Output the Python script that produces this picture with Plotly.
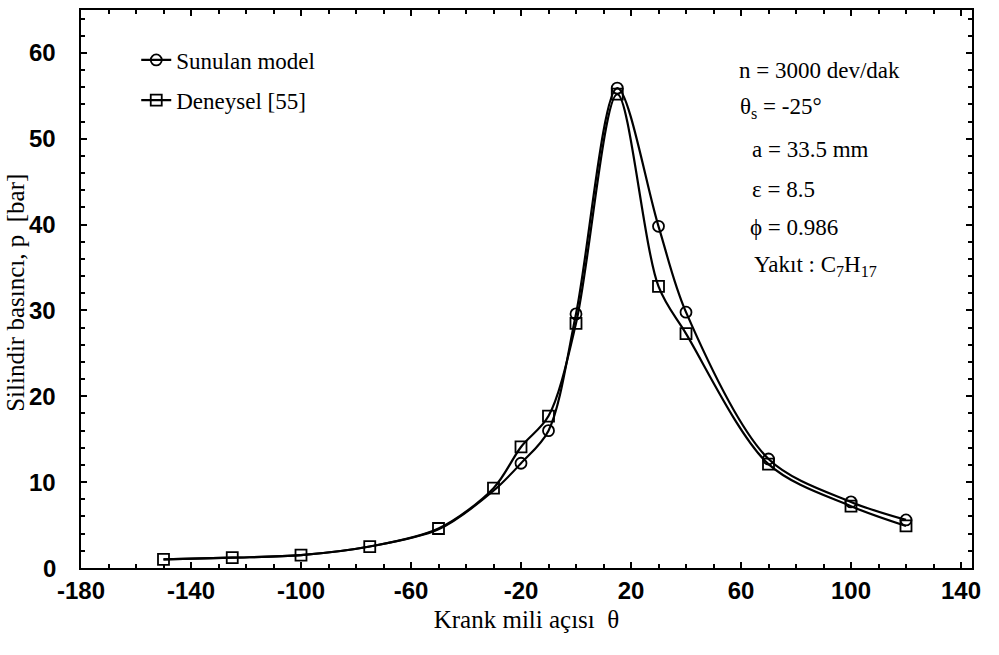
import plotly.graph_objects as go

theta = [-150, -125, -100, -75, -50, -30, -20, -10, 0, 15, 30, 40, 70, 100, 120]
p_model = [1.0, 1.2, 1.5, 2.5, 4.5, 9.0, 12.2, 16.0, 29.6, 55.9, 39.8, 29.8, 12.7, 7.7, 5.6]
p_exp = [1.0, 1.2, 1.5, 2.5, 4.6, 9.3, 14.1, 17.7, 28.5, 55.2, 32.8, 27.3, 12.1, 7.2, 4.9]
model_marker_theta = [-20, -10, 0, 15, 30, 40, 70, 100, 120]

x_ticks = [-180, -140, -100, -60, -20, 20, 60, 100, 140]
y_ticks = [0, 10, 20, 30, 40, 50, 60]

params = [
    "n = 3000 dev/dak",
    "θ<sub>s</sub> = -25°",
    "a = 33.5 mm",
    "ε = 8.5",
    "ϕ = 0.986",
    "Yakıt : C<sub>7</sub>H<sub>17</sub>",
]
param_pos = [(0.736, 0.891), (0.737, 0.824), (0.751, 0.750), (0.751, 0.679), (0.749, 0.611), (0.753, 0.541)]

serif = "Liberation Serif"
sans = "Liberation Sans"

model_markers_y = [p_model[theta.index(t)] for t in model_marker_theta]

fig = go.Figure()
# experimental curve
fig.add_trace(go.Scatter(
    x=theta, y=p_exp, mode="lines+markers", name="Deneysel [55]",
    line=dict(color="black", width=2.2, shape="spline", smoothing=0.9),
    marker=dict(symbol="square-open", size=11, color="black", line=dict(width=1.8)),
    legend="legend2",
))
# model curve line
fig.add_trace(go.Scatter(
    x=theta, y=p_model, mode="lines", showlegend=False,
    line=dict(color="black", width=2.2, shape="spline", smoothing=0.9),
))
# model markers
fig.add_trace(go.Scatter(
    x=model_marker_theta, y=model_markers_y, mode="markers", showlegend=False,
    marker=dict(symbol="circle-open", size=11, color="black", line=dict(width=1.8)),
))
# legend entry for model
fig.add_trace(go.Scatter(
    x=[None], y=[None], mode="lines+markers", name="Sunulan model",
    line=dict(color="black", width=2.2),
    marker=dict(symbol="circle-open", size=11, color="black", line=dict(width=1.8)),
    legend="legend",
))

annotations = []
for txt, (px, py) in zip(params, param_pos):
    annotations.append(dict(
        text=txt, x=px, y=py, xref="paper", yref="paper",
        xanchor="left", yanchor="middle", showarrow=False,
        font=dict(family=serif, size=23, color="black"),
    ))
# y tick labels (placed further from the axis, as in the reference)
for v in y_ticks:
    annotations.append(dict(
        text=str(v), x=0, y=v, xref="paper", yref="y",
        xanchor="right", yanchor="middle", xshift=-23, showarrow=False,
        font=dict(family=sans, size=24, color="black", weight="bold"),
    ))
# y-axis title placed as rotated annotation
annotations.append(dict(
    text="Silindir basıncı, p  [bar]", x=-0.073, y=0.493, xref="paper", yref="paper",
    xanchor="center", yanchor="middle", showarrow=False, textangle=-90,
    font=dict(family=serif, size=25, color="black"),
))

axis_common = dict(
    showline=True, linecolor="black", linewidth=2, mirror="ticks",
    ticks="inside", ticklen=6, tickwidth=1.5, tickcolor="black",
    showgrid=False, zeroline=False,
    tickfont=dict(family=sans, size=24, color="black", weight="bold"),
)

fig.update_layout(
    width=999, height=655,
    margin=dict(l=81, r=27, t=8, b=87),
    paper_bgcolor="white", plot_bgcolor="white",
    xaxis=dict(
        range=[-180, 144], tickvals=x_ticks, ticktext=[str(v) for v in x_ticks],
        minor=dict(dtick=10, tick0=0, ticks="inside", ticklen=4, tickcolor="black"),
        title=dict(text="Krank mili açısı  θ", font=dict(family=serif, size=25, color="black"), standoff=8),
        **axis_common,
    ),
    yaxis=dict(
        range=[0, 65], tickvals=y_ticks, showticklabels=False,
        minor=dict(dtick=2, tick0=0, ticks="inside", ticklen=4, tickcolor="black"),
        **axis_common,
    ),
    legend=dict(
        x=0.062, y=0.949, xanchor="left", yanchor="top", bgcolor="rgba(0,0,0,0)",
        font=dict(family=serif, size=23, color="black"),
    ),
    legend2=dict(
        x=0.062, y=0.877, xanchor="left", yanchor="top", bgcolor="rgba(0,0,0,0)",
        font=dict(family=serif, size=23, color="black"),
    ),
    annotations=annotations,
    showlegend=True,
)

fig.write_html("out.html")
